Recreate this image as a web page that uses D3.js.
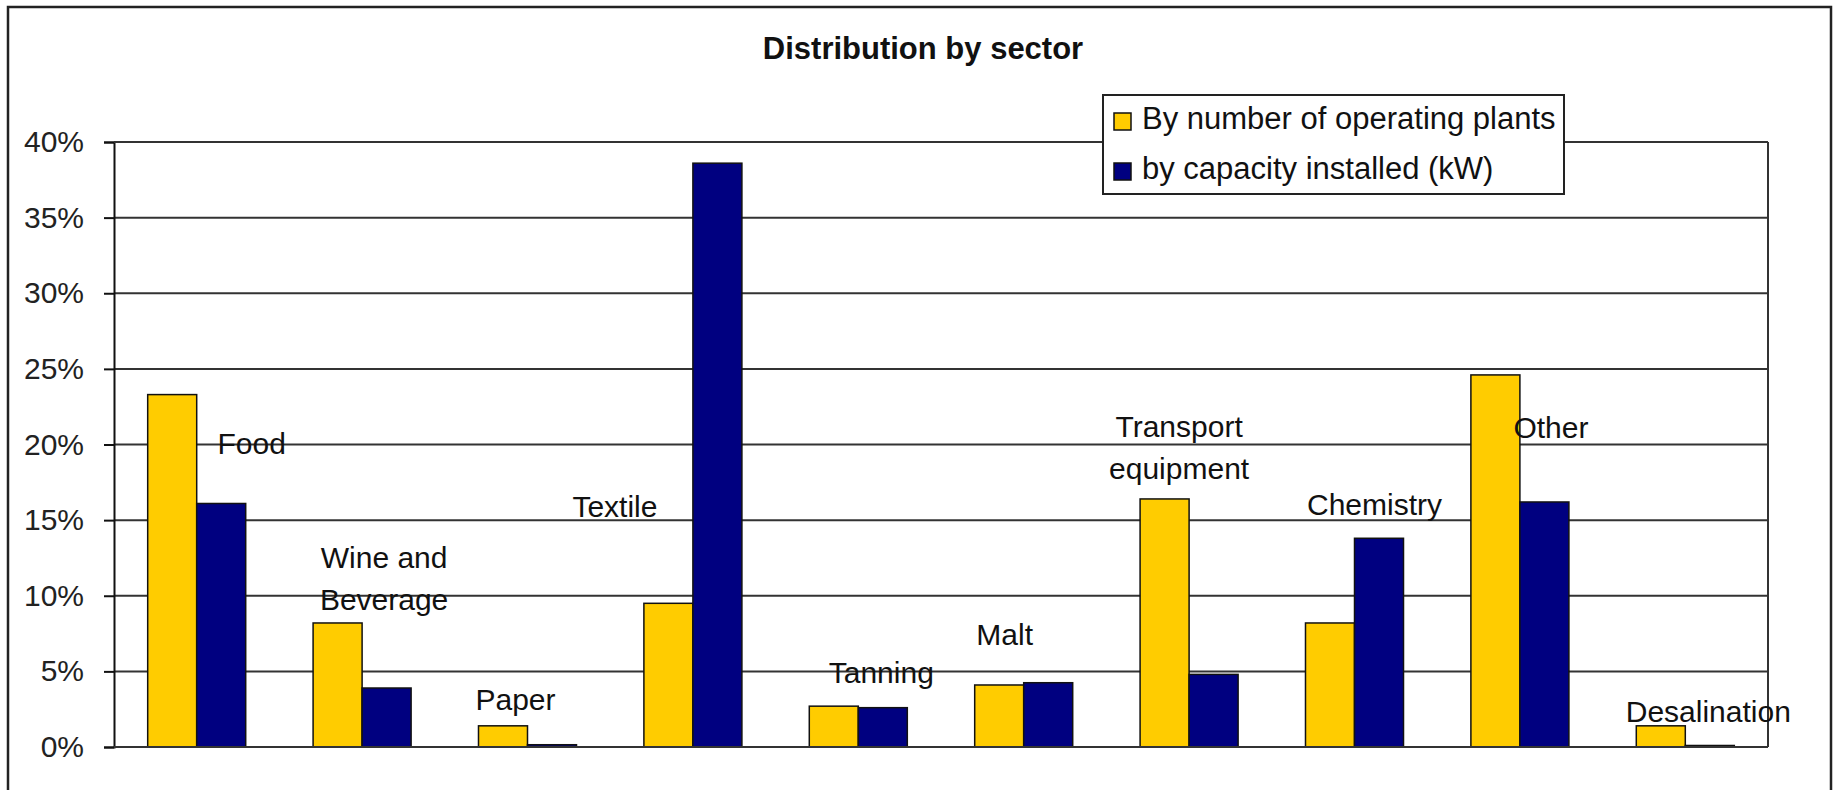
<!DOCTYPE html>
<html>
<head>
<meta charset="utf-8">
<script src="https://cdnjs.cloudflare.com/ajax/libs/d3/7.8.5/d3.min.js"></script>
<style>
body { margin: 0; background: #fff; }
svg { display: block; font-family: "Liberation Sans", Arial, sans-serif; }
</style>
</head>
<body>
<script>
var categories = ["Food", "Wine and Beverage", "Paper", "Textile", "Tanning", "Malt",
	"Transport equipment", "Chemistry", "Other", "Desalination"];
var byPlants = [23.3, 8.2, 1.4, 9.5, 2.7, 4.1, 16.4, 8.2, 24.6, 1.4];
var byCapacity = [16.1, 3.9, 0.15, 38.6, 2.6, 4.25, 4.8, 13.8, 16.2, 0.1];
var seriesNames = ["By number of operating plants", "by capacity installed (kW)"];
var seriesColors = ["#ffcc00", "#000080"];
var yTicks = [0, 5, 10, 15, 20, 25, 30, 35, 40];

// the sector names float near each group, not under the axis
var labelLines = [["Food"], ["Wine and", "Beverage"], ["Paper"], ["Textile"], ["Tanning"], ["Malt"],
	["Transport", "equipment"], ["Chemistry"], ["Other"], ["Desalination"]];
var labelDx = [55, 22, -12, -78, 23, -19, -10, 20, 31, 23];
var labelLevel = [19.37, 11.83, 2.45, 15.2, 4.23, 6.74, 20.5, 15.34, 20.43, 1.67];

var W = 1833, H = 790;
var plot = {left: 114, top: 142, right: 1768, bottom: 747};

var svg = d3.select("body").append("svg")
	.attr("width", W)
	.attr("height", H);

svg.append("rect")
	.attr("width", W).attr("height", H)
	.attr("fill", "#fff");

// outer frame (bottom edge runs off the picture)
svg.append("rect")
	.attr("x", 8).attr("y", 7)
	.attr("width", 1823).attr("height", 820)
	.attr("fill", "none")
	.attr("stroke", "#222")
	.attr("stroke-width", 2.5);

svg.append("text")
	.attr("x", 923).attr("y", 59)
	.attr("text-anchor", "middle")
	.attr("font-size", 31)
	.attr("font-weight", "bold")
	.attr("fill", "#111")
	.text("Distribution by sector");

var x0 = d3.scaleBand()
	.domain(categories)
	.range([plot.left, plot.right])
	.padding(0);

var x1 = d3.scaleBand()
	.domain([0, 1])
	.range([0, x0.bandwidth()])
	.paddingInner(0)
	.paddingOuter(0.6875);

var y = d3.scaleLinear()
	.domain([0, 40])
	.range([plot.bottom, plot.top]);

// gridlines
svg.append("g")
	.selectAll("line")
	.data(yTicks.slice(1))
	.enter().append("line")
		.attr("x1", plot.left).attr("x2", plot.right)
		.attr("y1", function(d) { return y(d); })
		.attr("y2", function(d) { return y(d); })
		.attr("stroke", "#333")
		.attr("stroke-width", 2);

// right edge of plot area
svg.append("line")
	.attr("x1", plot.right).attr("x2", plot.right)
	.attr("y1", plot.top).attr("y2", plot.bottom)
	.attr("stroke", "#333")
	.attr("stroke-width", 2);

var yAxis = d3.axisLeft(y)
	.tickValues(yTicks)
	.tickSize(10)
	.tickPadding(20)
	.tickFormat(function(d) { return d + "%"; });

var ya = svg.append("g")
	.attr("transform", "translate(" + plot.left + ",0)")
	.call(yAxis);
ya.select(".domain").attr("stroke", "#111").attr("stroke-width", 2);
ya.selectAll(".tick line").attr("stroke", "#111").attr("stroke-width", 2);
ya.selectAll(".tick text")
	.attr("font-size", 30)
	.attr("font-family", "Liberation Sans, Arial, sans-serif")
	.attr("fill", "#222");

// bars
var groups = svg.append("g")
	.selectAll("g.bar")
	.data(categories)
	.enter().append("g")
		.attr("class", "bar")
		.attr("transform", function(d) { return "translate(" + x0(d) + ",0)"; });

groups.selectAll("rect")
	.data(function(d, i) { return [byPlants[i], byCapacity[i]]; })
	.enter().append("rect")
		.attr("x", function(d, j) { return x1(j); })
		.attr("y", function(d) { return y(d); })
		.attr("width", x1.bandwidth())
		.attr("height", function(d) { return y(0) - y(d); })
		.attr("fill", function(d, j) { return seriesColors[j]; })
		.attr("stroke", "#111")
		.attr("stroke-width", 1.5);

// x axis baseline
svg.append("line")
	.attr("x1", plot.left).attr("x2", plot.right)
	.attr("y1", y(0)).attr("y2", y(0))
	.attr("stroke", "#333")
	.attr("stroke-width", 2);

// top edge of plot area
svg.append("line")
	.attr("x1", plot.left).attr("x2", plot.right)
	.attr("y1", y(40)).attr("y2", y(40))
	.attr("stroke", "#333")
	.attr("stroke-width", 2);

// sector labels
svg.append("g")
	.selectAll("text")
	.data(categories)
	.enter().append("text")
		.attr("text-anchor", "middle")
		.attr("font-size", 30)
		.attr("fill", "#111")
		.attr("transform", function(d, i) {
			return "translate(" + (x0(d) + x0.bandwidth() / 2 + labelDx[i]) + "," + y(labelLevel[i]) + ")";
		})
		.selectAll("tspan")
		.data(function(d, i) { return labelLines[i]; })
		.enter().append("tspan")
			.attr("x", 0)
			.attr("y", function(d, k) { return k * 42; })
			.text(function(d) { return d; });

// legend
var legend = svg.append("g")
	.attr("transform", "translate(1103,95)");

legend.append("rect")
	.attr("width", 461).attr("height", 99)
	.attr("fill", "#fff")
	.attr("stroke", "#222")
	.attr("stroke-width", 2);

var items = legend.selectAll("g.item")
	.data(seriesNames)
	.enter().append("g")
		.attr("class", "item")
		.attr("transform", function(d, i) { return "translate(11," + (18 + i * 50) + ")"; });

items.append("rect")
	.attr("width", 17).attr("height", 17)
	.attr("fill", function(d, i) { return seriesColors[i]; })
	.attr("stroke", "#111")
	.attr("stroke-width", 1.5);

items.append("text")
	.attr("x", 28).attr("y", 16)
	.attr("font-size", 31)
	.attr("fill", "#111")
	.text(function(d) { return d; });
</script>
</body>
</html>
